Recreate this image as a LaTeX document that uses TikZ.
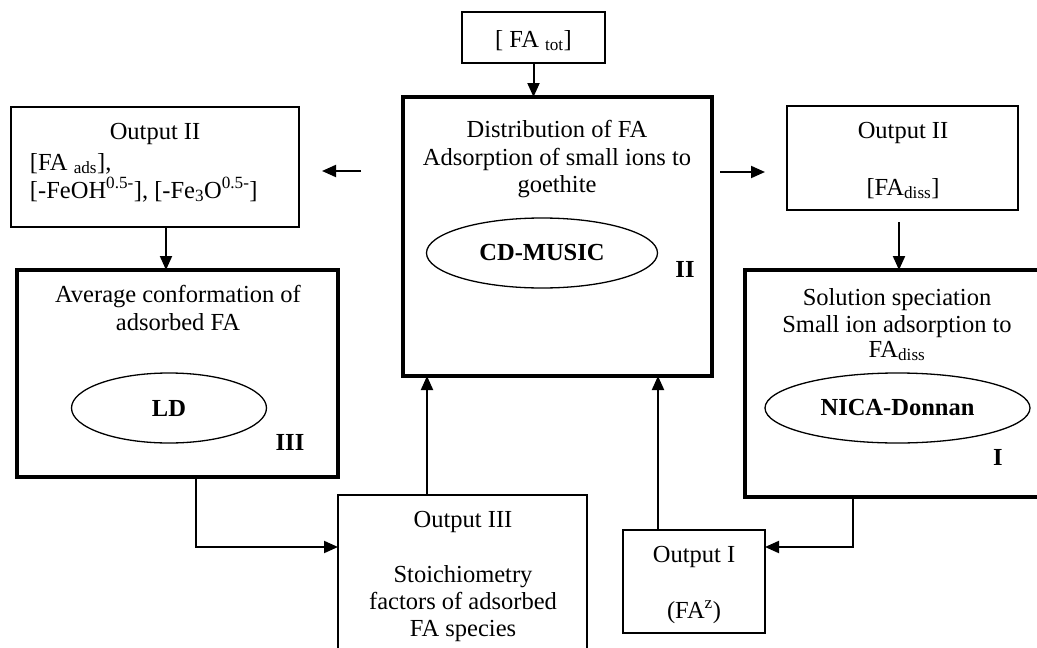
\documentclass[tikz,border=0pt]{standalone}
\usepackage{fontspec}
\setmainfont{Liberation Serif}
\usetikzlibrary{arrows.meta,shapes.geometric,calc}
\begin{document}
\begin{tikzpicture}[x=1pt,y=-1pt,
  every node/.style={font=\fontsize{24.5}{28}\selectfont, inner sep=0pt, outer sep=0pt},
  thickbox/.style={draw, line width=4pt, rectangle},
  thinbox/.style={draw, line width=1.5pt, rectangle},
  model/.style={draw, ellipse, line width=1.3pt, font=\fontsize{24.5}{28}\selectfont\bfseries},
  txt/.style={anchor=base},
  ltxt/.style={anchor=base west},
  lbl/.style={anchor=base, font=\fontsize{24.5}{28}\selectfont\bfseries},
  arr/.style={line width=2pt, -{Triangle[length=14pt,width=12pt]}},
]
\useasboundingbox (0,0) rectangle (1037,648);

% boxes
\node[thickbox, minimum width=309pt, minimum height=279pt] (cd) at (557.5,236.5) {};
\node[thickbox, minimum width=321pt, minimum height=207pt] (ld) at (177.5,373.5) {};
\node[thickbox, minimum width=304pt, minimum height=227pt] (nica) at (897,383.5) {};
\node[thinbox, minimum width=143pt, minimum height=51pt] (fatot) at (533.5,37.5) {};
\node[thinbox, minimum width=288pt, minimum height=120pt] (o2l) at (155,167) {};
\node[thinbox, minimum width=231pt, minimum height=104pt] (o2r) at (902.5,158) {};
\node[thinbox, minimum width=249pt, minimum height=170pt] (o3) at (462.5,580) {};
\node[thinbox, minimum width=142pt, minimum height=103pt] (o1) at (694,581.5) {};

% ellipses
\node[model, minimum width=231pt, minimum height=70pt] (cdm) at (542,253) {CD-MUSIC};
\node[model, minimum width=195pt, minimum height=70pt] (ldm) at (169,408) {LD};
\node[model, minimum width=265pt, minimum height=70pt] (nicam) at (897.5,408) {NICA-Donnan};

% labels
\node[lbl] (l2) at (685,277) {II};
\node[lbl] (l3) at (290,450) {III};
\node[lbl] (l1) at (998,465) {I};

% texts
\node[txt] (tfa) at (533.5,47) {[ FA \textsubscript{tot}]};

\node[txt] (tcd1) at (557,137) {Distribution of FA};
\node[txt] (tcd2) at (557,165) {Adsorption of small ions to};
\node[txt] (tcd3) at (557,192) {goethite};

\node[txt] (tld1) at (178,302) {Average conformation of};
\node[txt] (tld2) at (178,330) {adsorbed FA};

\node[txt] (tn1) at (897,305) {Solution speciation};
\node[txt] (tn2) at (897,332) {Small ion adsorption to};
\node[txt] (tn3) at (897,357) {FA\textsubscript{diss}};

\node[txt] (to2l1) at (155,139) {Output II};
\node[ltxt] (to2l2) at (30,170) {[FA \textsubscript{ads}],};
\node[ltxt] (to2l3) at (30,198) {[-FeOH\textsuperscript{0.5-}], [-Fe\textsubscript{3}O\textsuperscript{0.5-}]};

\node[txt] (to2r1) at (903,138) {Output II};
\node[txt] (to2r2) at (903,195) {[FA\textsubscript{diss}]};

\node[txt] (to31) at (463,527) {Output III};
\node[txt] (to32) at (463,582) {Stoichiometry};
\node[txt] (to33) at (463,609) {factors of adsorbed};
\node[txt] (to34) at (463,636) {FA species};

\node[txt] (to11) at (694,562) {Output I};
\node[txt] (to12) at (694,618) {(FA\textsuperscript{z})};

% helper coordinates
\coordinate (lA) at (0,171);
\coordinate (rA) at (0,172);
\coordinate (xa) at (166,0);
\coordinate (xb) at (899,0);
\coordinate (x3) at (427,0);
\coordinate (x4) at (658,0);
\coordinate (j1) at (196,547);
\coordinate (j2) at (853,547);

% connectors
\draw[arr] (fatot.south) -- (fatot.south |- cd.north);
\draw[arr, shorten <=42pt, shorten >=23pt] (cd.west |- lA) -- (o2l.east |- lA);
\draw[arr, shorten <=8pt, shorten >=22pt] (cd.east |- rA) -- (o2r.west |- rA);
\draw[arr] (o2l.south -| xa) -- (ld.north -| xa);
\draw[arr, shorten <=12pt] (o2r.south -| xb) -- (nica.north -| xb);
\draw[arr] (ld.south -| j1) |- (o3.west |- j1);
\draw[arr] (o3.north -| x3) -- (cd.south -| x3);
\draw[arr] (o1.north -| x4) -- (cd.south -| x4);
\draw[arr] (nica.south -| j2) |- (o1.east |- j2);
\end{tikzpicture}
\end{document}
